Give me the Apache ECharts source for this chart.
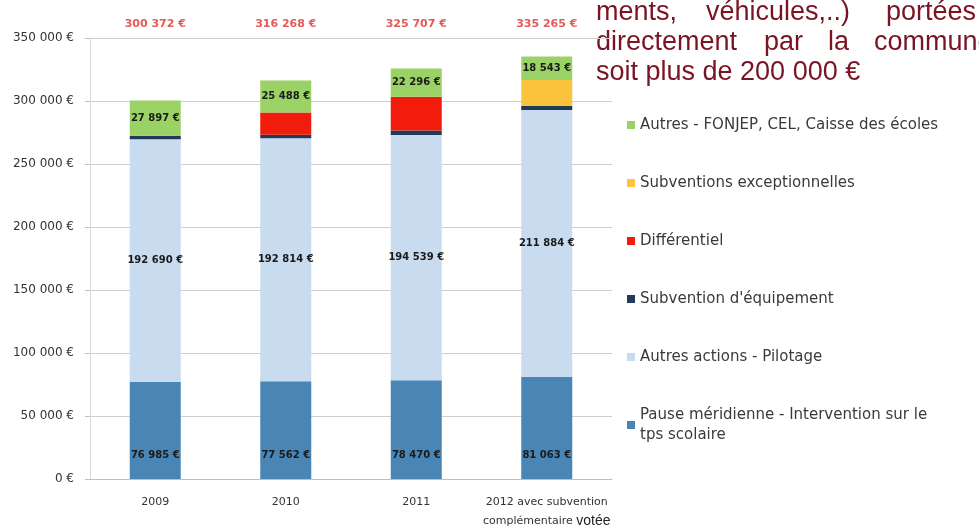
<!DOCTYPE html>
<html>
<head>
<meta charset="utf-8">
<script src="https://cdn.jsdelivr.net/npm/echarts@6/dist/echarts.min.js"></script>
<style>
  html, body { margin: 0; padding: 0; background: #fff; }
  #chart { width: 979px; height: 527px; }
</style>
</head>
<body>
<div id="chart"></div>
<script>
// catégories (années)
var categories = ["2009", "2010", "2011", "2012 avec subvention\ncomplémentaire votée"];
var totals = ["300 372 €", "316 268 €", "325 707 €", "335 265 €"];

// séries empilées, du bas vers le haut
var pauseMeridienne = [76985, 77562, 78470, 81063];
var autresActions = [192690, 192814, 194539, 211884];
var subventionEquipement = [2800, 2800, 3500, 3175];
var differentiel = [0, 17604, 26902, 0];
var subventionsExceptionnelles = [0, 0, 0, 20600];
var autresFonjep = [27897, 25488, 22296, 18543];

var yTicks = { min: 0, max: 350000, interval: 50000 };

function euro(v) {
  return String(v).replace(/\B(?=(\d{3})+(?!\d))/g, " ") + " €";
}

var labelStyle = {
  show: true,
  position: "inside",
  color: "#1a1a1a",
  fontSize: 10,
  fontWeight: "bold",
  fontFamily: "DejaVu Sans",
  formatter: function (p) { return euro(p.value); }
};

var chart = echarts.init(document.getElementById("chart"));

function serie(name, data, color, label) {
  return {
    name: name,
    type: "bar",
    stack: "total",
    barWidth: 51,
    data: data,
    itemStyle: { color: color },
    label: label || { show: false }
  };
}

// texte rouge en haut à droite (justifié)
var redFont = "27px Liberation Sans";
var redColor = "#7a1322";
function word(txt, x, y) {
  return { type: "text", left: x, top: y, style: { text: txt, fill: redColor, font: redFont } };
}

var option = {
  backgroundColor: "#fff",
  animation: false,
  grid: { left: 90, right: 367, top: 38, bottom: 48, outerBoundsMode: "none" },
  legend: {
    orient: "vertical",
    left: 622,
    top: 110,
    itemWidth: 8,
    itemHeight: 8,
    itemGap: 38,
    icon: "rect",
    textStyle: { color: "#3a3a3a", fontSize: 15, fontFamily: "DejaVu Sans", lineHeight: 20 },
    data: [
      "Autres - FONJEP, CEL, Caisse des écoles",
      "Subventions exceptionnelles",
      "Différentiel",
      "Subvention d'équipement",
      "Autres actions - Pilotage",
      "Pause méridienne - Intervention sur le\ntps scolaire"
    ]
  },
  xAxis: [
    {
      type: "category",
      data: categories,
      axisLine: { lineStyle: { color: "#bfbfbf" } },
      axisTick: { show: false },
      axisLabel: {
        color: "#333",
        fontSize: 11,
        fontFamily: "DejaVu Sans",
        margin: 14,
        lineHeight: 19,
        interval: 0,
        formatter: function (v) {
          return v.replace("votée", "{b|votée}");
        },
        rich: {
          b: { fontSize: 14, fontFamily: "Liberation Sans", color: "#222" }
        }
      }
    },
    {
      type: "category",
      position: "top",
      data: totals,
      axisLine: { show: false },
      axisTick: { show: false },
      axisLabel: {
        color: "#e25a57",
        fontSize: 11,
        fontWeight: "bold",
        fontFamily: "DejaVu Sans",
        margin: 8,
        interval: 0
      }
    }
  ],
  yAxis: {
    type: "value",
    min: yTicks.min,
    max: yTicks.max,
    interval: yTicks.interval,
    axisLine: { show: true, lineStyle: { color: "#d9d9d9" } },
    axisTick: { show: true, length: 5, lineStyle: { color: "#bfbfbf" } },
    splitLine: { lineStyle: { color: "#cfcfcf" } },
    axisLabel: {
      color: "#333",
      fontSize: 12,
      fontFamily: "DejaVu Sans",
      margin: 16,
      formatter: euro
    }
  },
  series: [
    serie("Pause méridienne - Intervention sur le\ntps scolaire", pauseMeridienne, "#4a86b5",
      Object.assign({}, labelStyle, { position: "insideBottom", distance: 19 })),
    serie("Autres actions - Pilotage", autresActions, "#c8dbef", labelStyle),
    serie("Subvention d'équipement", subventionEquipement, "#203b57"),
    serie("Différentiel", differentiel, "#f21c0c"),
    serie("Subventions exceptionnelles", subventionsExceptionnelles, "#fbc43c"),
    serie("Autres - FONJEP, CEL, Caisse des écoles", autresFonjep, "#9bd266", labelStyle)
  ],
  graphic: [
    word("ments,", 596, -1),
    word("véhicules,..)", 706, -1),
    word("portées", 886, -1),
    word("directement", 596, 29),
    word("par", 764, 29),
    word("la", 828, 29),
    word("commune", 874, 29),
    word("soit plus de 200 000 €", 596, 59)
  ]
};

chart.setOption(option);
</script>
</body>
</html>
